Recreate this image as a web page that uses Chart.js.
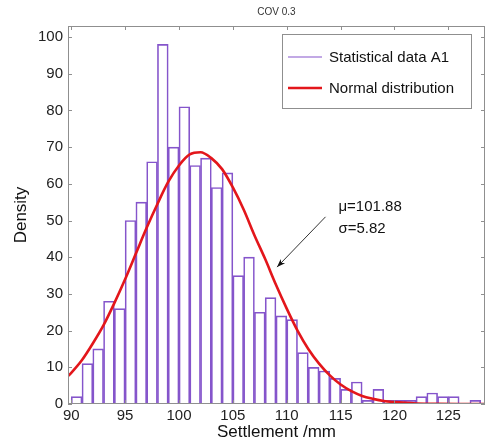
<!DOCTYPE html>
<html lang="en">
  <head>
    <meta charset="utf-8"/>
    <script src="https://cdn.jsdelivr.net/npm/chart.js@4/dist/chart.umd.min.js"></script>
    <style>
      html, body { margin: 0; padding: 0; background: #fff; }
      #box { width: 489px; height: 441px; }
    </style>
  </head>
  <body>
    <div id="box"><canvas id="hist"></canvas></div>

<script>
// histogram bins (left edge, width 1 mm) and counts
const binLeft = [90, 91, 92, 93, 94, 95, 96, 97, 98, 99,
                 100, 101, 102, 103, 104, 105, 106, 107, 108, 109,
                 110, 111, 112, 113, 114, 115, 116, 117, 118, 119,
                 120, 121, 122, 123, 124, 125, 126, 127];
const counts  = [2, 11, 15, 28, 26, 50, 55, 66, 98, 70,
                 81, 65, 67, 59, 63, 35, 40, 25, 29, 24,
                 23, 14, 10, 9, 7, 4, 6, 1, 4, 1,
                 1, 1, 2, 3, 2, 2, 0, 1];

// fitted normal curve
const curveX = [89.7, 90, 91, 92, 93, 94, 95, 96, 97, 98, 99, 100, 101, 102, 103, 104,
                105, 106, 107, 108, 109, 110, 111, 112, 113, 114, 115, 116, 117, 118,
                119, 120, 121, 122, 123, 124, 126, 128.4];
const curveY = [7.6, 8.5, 12, 16.5, 21.5, 27.5, 34, 41, 48, 54.5, 60.5, 65, 68, 68.6, 67, 64,
                59, 53, 46, 39.5, 32.5, 26, 20, 15, 11, 7.8, 5.3, 3.5, 2.2, 1.4,
                0.8, 0.5, 0.3, 0.15, 0.08, 0.04, 0.01, 0];

const xTicks = [90, 95, 100, 105, 110, 115, 120, 125];
const yTicks = [0, 10, 20, 30, 40, 50, 60, 70, 80, 90, 100];

const seriesNames = ['Statistical data A1', 'Normal distribution'];
const stats = ['\u03bc=101.88', '\u03c3=5.82'];

const purple = '#8555cb';
const red = '#e3161b';
const axisGrey = '#8f8f8f';
const font = "'Liberation Sans', Arial, sans-serif";

// frame, inward ticks, legend box, labels, arrow
const decor = {
    id: 'decor',
    afterDraw(chart) {
        const c = chart.ctx;
        const a = chart.chartArea;
        const xs = chart.scales.x, ys = chart.scales.y;
        c.save();

        // box + ticks
        c.strokeStyle = axisGrey;
        c.lineWidth = 1;
        c.strokeRect(a.left + 0.5, a.top + 0.5, a.right - a.left - 1, a.bottom - a.top - 1);
        c.beginPath();
        xTicks.forEach((v) => {
            const px = Math.round(xs.getPixelForValue(v)) + 0.5;
            c.moveTo(px, a.bottom); c.lineTo(px, a.bottom - 4);
            c.moveTo(px, a.top); c.lineTo(px, a.top + 4);
        });
        yTicks.forEach((v) => {
            const py = Math.round(ys.getPixelForValue(v)) + 0.5;
            c.moveTo(a.left, py); c.lineTo(a.left + 4, py);
            c.moveTo(a.right, py); c.lineTo(a.right - 4, py);
        });
        c.stroke();

        // title
        c.fillStyle = '#333';
        c.font = '10px ' + font;
        c.textAlign = 'center';
        c.textBaseline = 'middle';
        c.fillText('COV 0.3', (a.left + a.right) / 2, 12);

        // axis titles
        c.fillStyle = '#111';
        c.font = '17px ' + font;
        c.fillText('Settlement /mm', (a.left + a.right) / 2, 432);
        c.save();
        c.translate(21, 215);
        c.rotate(-Math.PI / 2);
        c.fillText('Density', 0, 0);
        c.restore();

        // legend
        const lx = a.right - 203, ly = a.top + 8, lw = 189, lh = 74;
        c.fillStyle = '#fff';
        c.fillRect(lx, ly, lw, lh);
        c.strokeStyle = axisGrey;
        c.strokeRect(lx + 0.5, ly + 0.5, lw, lh);
        const rows = [[seriesNames[0], purple, 1.2], [seriesNames[1], red, 2.5]];
        c.font = '15px ' + font;
        c.textAlign = 'left';
        rows.forEach(([txt, col, w], i) => {
            const ry = ly + 23 + i * 31;
            c.strokeStyle = col;
            c.lineWidth = w;
            c.beginPath();
            c.moveTo(lx + 6, ry); c.lineTo(lx + 40, ry);
            c.stroke();
            c.fillStyle = '#111';
            c.fillText(txt, lx + 47, ry + 1);
        });

        // stats text
        c.font = '15px ' + font;
        c.fillStyle = '#111';
        c.fillText(stats[0], xs.getPixelForValue(114.8), ys.getPixelForValue(53.7));
        c.fillText(stats[1], xs.getPixelForValue(114.8), ys.getPixelForValue(47.7));

        // arrow from label to curve
        const x0 = xs.getPixelForValue(113.6), y0 = ys.getPixelForValue(51);
        const x1 = xs.getPixelForValue(109.1), y1 = ys.getPixelForValue(37.3);
        const ang = Math.atan2(y1 - y0, x1 - x0);
        c.strokeStyle = '#333';
        c.fillStyle = '#111';
        c.lineWidth = 1;
        c.beginPath();
        c.moveTo(x0, y0); c.lineTo(x1, y1);
        c.stroke();
        c.beginPath();
        c.moveTo(x1, y1);
        c.lineTo(x1 - 9 * Math.cos(ang - 0.35), y1 - 9 * Math.sin(ang - 0.35));
        c.lineTo(x1 - 6 * Math.cos(ang), y1 - 6 * Math.sin(ang));
        c.lineTo(x1 - 9 * Math.cos(ang + 0.35), y1 - 9 * Math.sin(ang + 0.35));
        c.closePath();
        c.fill();

        c.restore();
    }
};

const barData = binLeft.map((b, i) => ({ x: b + 0.5, y: counts[i] }));
const lineData = curveX.map((x, i) => ({ x: x, y: curveY[i] }));

const ctx = document.getElementById('hist').getContext('2d');
const chart = new Chart(ctx, {
    type: 'bar',
    data: {
        datasets: [
            {
                type: 'bar',
                label: seriesNames[0],
                data: barData,
                backgroundColor: 'rgba(255,255,255,0)',
                borderColor: purple,
                borderWidth: 1,
                barPercentage: 1,
                categoryPercentage: 1,
                grouped: false,
                order: 2,
            },
            {
                type: 'line',
                label: seriesNames[1],
                data: lineData,
                borderColor: red,
                borderWidth: 2.6,
                pointRadius: 0,
                fill: false,
                cubicInterpolationMode: 'monotone',
                order: 1,
            }
        ]
    },
    options: {
        responsive: true,
        maintainAspectRatio: false,
        animation: false,
        devicePixelRatio: 1,
        layout: { padding: { top: 26, right: 4, left: 0, bottom: 0 } },
        plugins: {
            legend: { display: false },
            title: { display: false },
            tooltip: { enabled: false },
        },
        scales: {
            x: {
                type: 'linear',
                min: 89.7,
                max: 128.4,
                offset: false,
                grid: { display: false, drawTicks: false },
                border: { display: false },
                ticks: { color: '#222', font: { family: font, size: 15 }, padding: 3, maxRotation: 0 },
                afterBuildTicks: (s) => { s.ticks = xTicks.map((v) => ({ value: v })); },
                afterFit: (s) => { s.height = 37; },
            },
            y: {
                min: 0,
                max: 103,
                grid: { display: false, drawTicks: false },
                border: { display: false },
                ticks: { color: '#222', font: { family: font, size: 15 }, padding: 5 },
                afterBuildTicks: (s) => { s.ticks = yTicks.map((v) => ({ value: v })); },
                afterFit: (s) => { s.width = 68; },
            }
        }
    },
    plugins: [decor]
});
</script>
  </body>
</html>
